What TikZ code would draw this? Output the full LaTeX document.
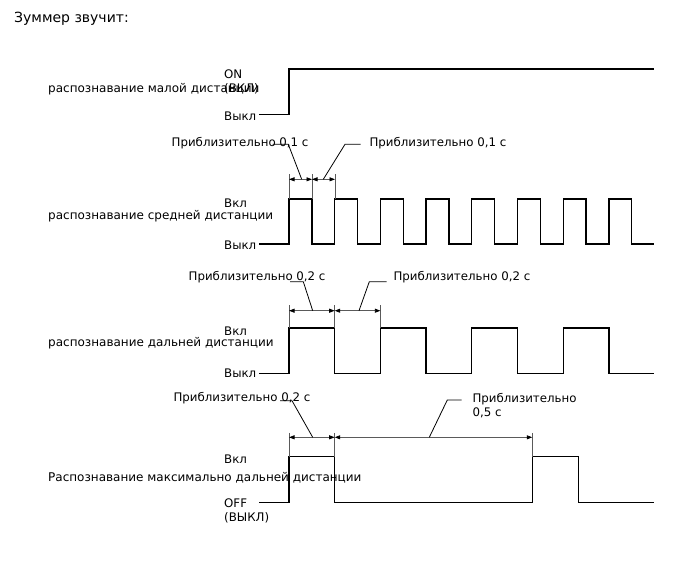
\documentclass[tikz,border=0pt]{standalone}
\usepackage{fontspec}
\setmainfont{DejaVu Sans}
\usetikzlibrary{arrows.meta}
\definecolor{dimgray}{HTML}{5A5A5A}
\tikzset{
  % signal trace, dimension lines and labels
  wave/.style = {line width=1.3pt, black, line join=miter},
  dim/.style  = {{Triangle[length=5.5pt,width=4pt,black]}-{Triangle[length=5.5pt,width=4pt,black]},
                 line width=0.8pt, dimgray},
  ext/.style  = {line width=0.7pt, dimgray},
  lead/.style = {line width=0.8pt, black},
  lbl/.style  = {font=\fontsize{11.8}{14}\selectfont, inner sep=0pt, anchor=base west, align=left},
  side/.style = {lbl, font=\fontsize{12}{14}\selectfont},
  ttl/.style  = {font=\fontsize{14}{16}\selectfont, inner sep=0pt, anchor=base west},
}

\begin{document}
\begin{tikzpicture}[x=1pt,y=-1pt]
\useasboundingbox (0,0) rectangle (688,560);
\node[ttl] (title) at (14,22.7) {Зуммер звучит:};

% short range row
\node[lbl]  (s1on)  at (224,92.7)  {ON\\(ВКЛ)};
\node[side] (s1txt) at (48,92.7)   {распознавание малой дистанции};
\node[lbl]  (s1off) at (224,120)   {Выкл};
\draw[wave] (259,114.5) -- (289,114.5) -- (289,69) -- (654,69);

% medium range row
\node[lbl]  (s2on)  at (224,207.3) {Вкл};
\node[side] (s2txt) at (48,219.3)  {распознавание средней дистанции};
\node[lbl]  (s2off) at (224,249.3) {Выкл};
\draw[wave] (259,244) \foreach \i in {0,...,7} {
  -- ({289+45.7*\i},244) -- ++(0,-45) -- ++(22.85,0) -- ++(0,45)} -- (654,244);
\coordinate (m0) at (289,179.3);
\coordinate (m1) at (312,179.3);
\coordinate (m2) at (335,179.3);
\foreach \p in {m0,m1,m2} {\draw[ext] (\p) ++(0,-5) -- ++(0,24.7);}
\foreach \a/\b in {m0/m1,m1/m2} {\draw[dim] (\a) -- (\b);}
\node[lbl] (m1txt) at (171.5,146.7) {Приблизительно 0,1 с};
\node[lbl] (m2txt) at (369.3,146.7) {Приблизительно 0,1 с};
\coordinate (mq1) at (301.7,179.3);
\coordinate (mq2) at (323.3,179.3);
\draw[lead] (272.7,144.3) -- (288.3,144.3) -- (mq1);
\draw[lead] (360.5,144.3) -- (345,144.3) -- (mq2);

% long range row
\node[lbl]  (s3on)  at (224,335)   {Вкл};
\node[side] (s3txt) at (48,346.7)  {распознавание дальней дистанции};
\node[lbl]  (s3off) at (224,377.3) {Выкл};
\draw[wave] (259,373.3) \foreach \i in {0,...,3} {
  -- ({289+91.4*\i},373.3) -- ++(0,-45.3) -- ++(45.7,0) -- ++(0,45.3)} -- (654,373.3);
\coordinate (l0) at (289,310.7);
\coordinate (l1) at (334.7,310.7);
\coordinate (l2) at (380.4,310.7);
\foreach \p in {l0,l1,l2} {\draw[ext] (\p) ++(0,-5.7) -- ++(0,23);}
\foreach \a/\b in {l0/l1,l1/l2} {\draw[dim] (\a) -- (\b);}
\node[lbl] (l1txt) at (188.5,280.7) {Приблизительно 0,2 с};
\node[lbl] (l2txt) at (393.3,280.7) {Приблизительно 0,2 с};
\coordinate (lq1) at (312.7,310.7);
\coordinate (lq2) at (359,310.7);
\draw[lead] (290,281.7) -- (303.3,281.7) -- (lq1);
\draw[lead] (386.7,281.7) -- (369.3,281.7) -- (lq2);

% maximum range row
\node[lbl]  (s4on)  at (224,463.3) {Вкл};
\node[side] (s4txt) at (48,481)    {Распознавание максимально дальней дистанции};
\node[lbl]  (s4off) at (224,521.7) {OFF\\(ВЫКЛ)};
\draw[wave] (259,502.3) -- (289,502.3) -- (289,456.7) -- (334.7,456.7) -- (334.7,502.3)
  -- (532.3,502.3) -- (532.3,456.7) -- (578.3,456.7) -- (578.3,502.3) -- (654,502.3);
\coordinate (x0) at (289,437.3);
\coordinate (x1) at (334.7,437.3);
\coordinate (x2) at (532.3,437.3);
\foreach \p in {x0,x1,x2} {\draw[ext] (\p) ++(0,-4.5) -- ++(0,23.9);}
\foreach \a/\b in {x0/x1,x1/x2} {\draw[dim] (\a) -- (\b);}
\node[lbl] (x1txt) at (173.3,401.7) {Приблизительно 0,2 с};
\node[lbl] (x2txt) at (472.3,416)   {Приблизительно\\0,5 с};
\coordinate (xq1) at (312.7,437.3);
\coordinate (xq2) at (429.3,437.3);
\draw[lead] (280,400.7) -- (292,400.7) -- (xq1);
\draw[lead] (461.7,400) -- (447.3,400) -- (xq2);
\end{tikzpicture}
\end{document}
